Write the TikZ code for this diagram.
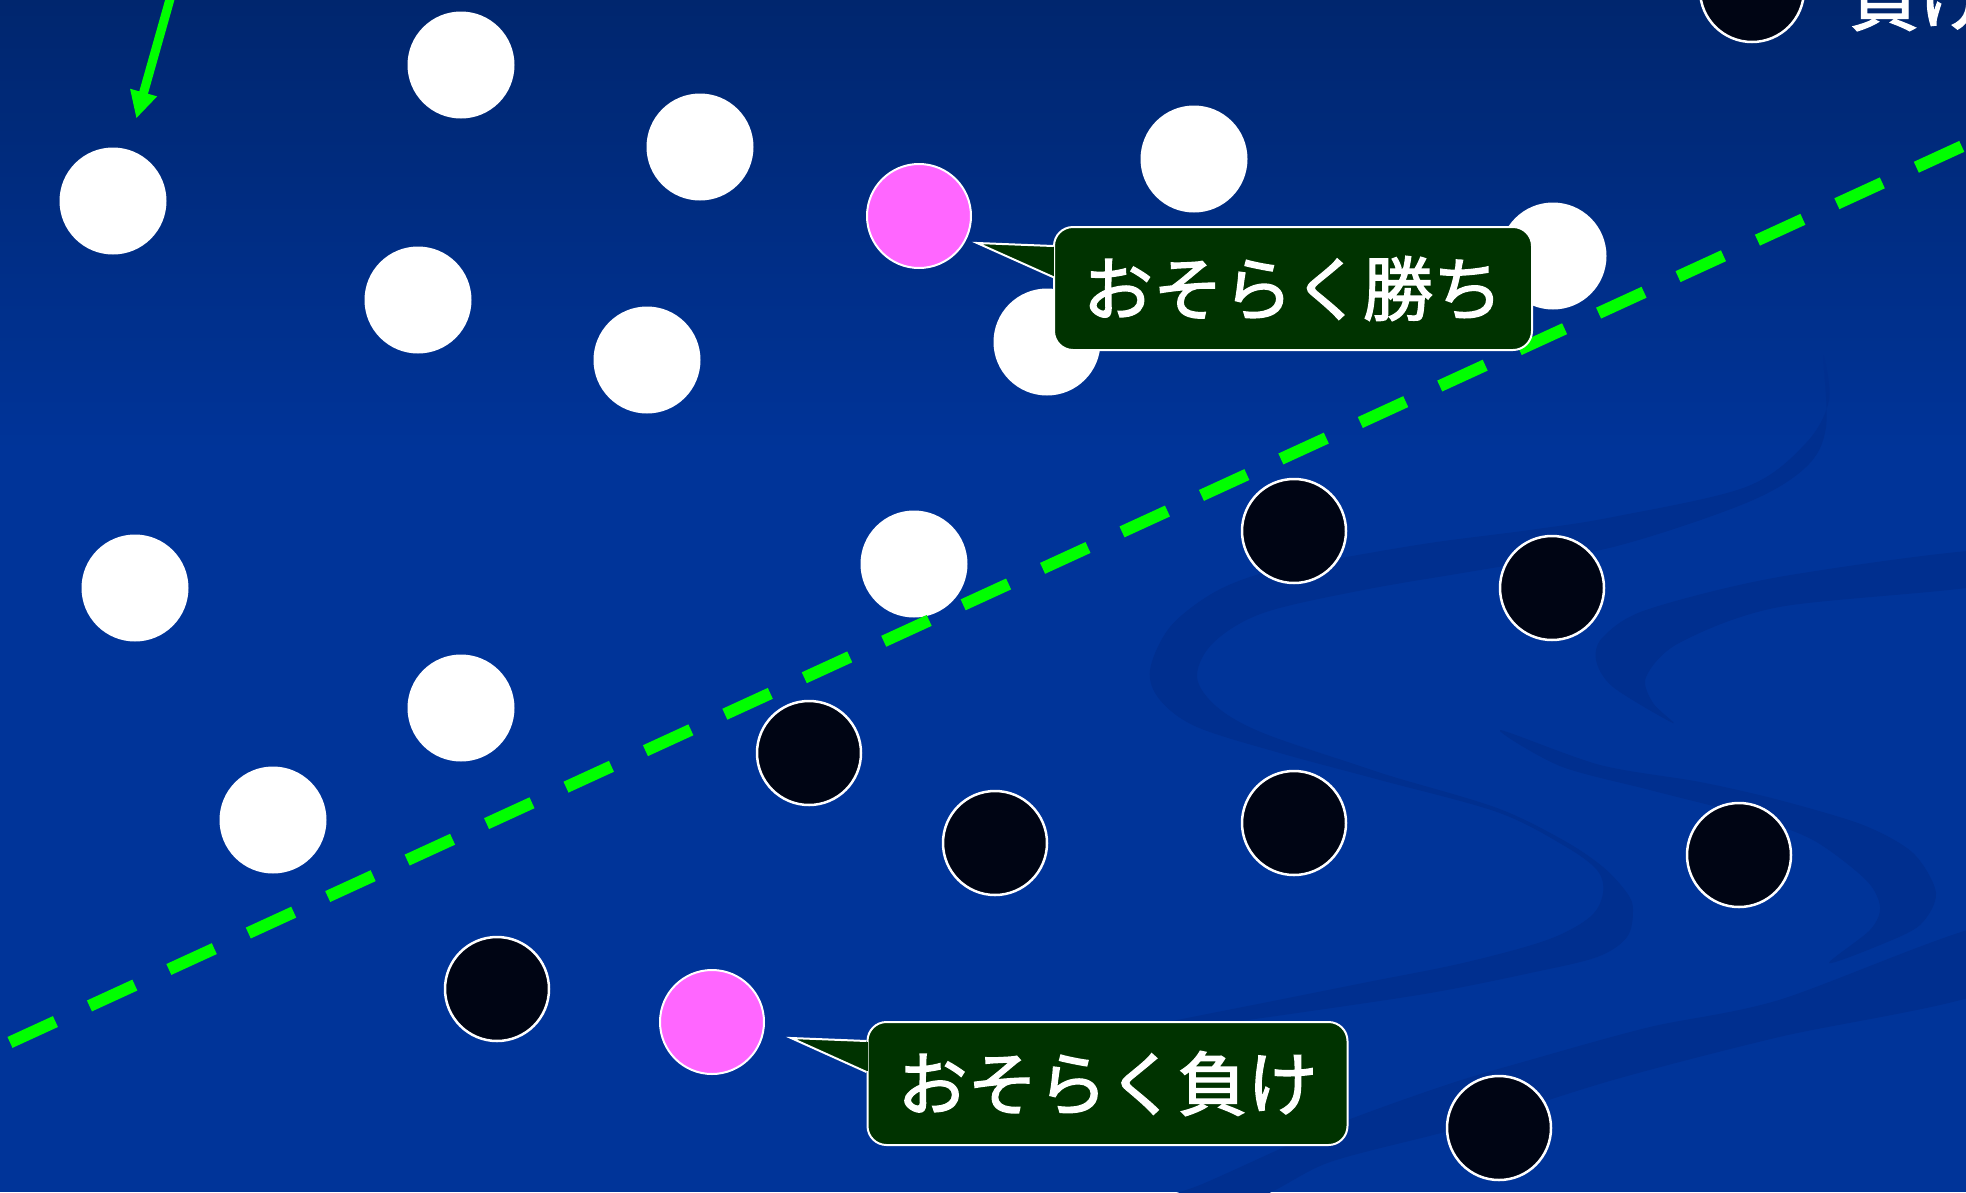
\documentclass[tikz,border=0pt]{standalone}
\usepackage{fontspec}
\newfontfamily\jpfont{Noto Sans CJK JP}[FakeBold=2]
\usetikzlibrary{arrows.meta,calc}
\definecolor{bgtop}{RGB}{0,38,110}
\definecolor{bgbot}{RGB}{0,52,153}
\definecolor{swirlc}{RGB}{0,47,143}
\definecolor{stoneblack}{RGB}{0,5,20}
\definecolor{stonepink}{RGB}{255,102,255}
\definecolor{boxgreen}{RGB}{0,51,0}
\definecolor{linegreen}{RGB}{0,255,0}
\begin{document}
\begin{tikzpicture}[x=1pt,y=-1pt,
  wstone/.style={circle, fill=white, minimum size=107pt, inner sep=0pt},
  bstone/.style={circle, fill=stoneblack, draw=white, line width=2.5pt, minimum size=104pt, inner sep=0pt},
  pstone/.style={circle, fill=stonepink, draw=white, line width=2pt, minimum size=104pt, inner sep=0pt},
  jptext/.style={text=white, font=\jpfont\fontsize{70}{80}\selectfont},
  calloutbox/.style={jptext, rounded corners=19pt, fill=boxgreen, draw=white, line width=2pt, minimum height=123pt, inner sep=0pt},
  pointer/.style={fill=boxgreen, draw=white, line width=2pt, line join=miter},
  swirl/.style={fill=swirlc},
  boundary/.style={linegreen, line width=12pt, dash pattern=on 50pt off 37.4pt},
  hint/.style={linegreen, line width=9pt, -{Triangle[length=27pt,width=26pt]}}
]
\useasboundingbox (0,0) rectangle (1966,1192);
\clip (0,0) rectangle (1966,1192);

% background
\shade[top color=bgtop, bottom color=bgbot] (0,0) rectangle (1966,450);
\fill[bgbot] (0,449) rectangle (1966,1192);

% decorative swirls
\fill[swirl] plot[smooth cycle, tension=0.55] coordinates {
 (1823,355) (1829,400) (1806,443) (1746,487) (1613,517) (1530,530) (1430,543)
 (1330,560) (1263,573) (1213,593) (1170,627) (1150,670) (1160,700) (1197,727)
 (1280,753) (1380,780) (1497,812) (1563,845) (1597,870) (1603,893) (1590,917)
 (1547,940) (1463,963) (1363,983) (1263,1003) (1163,1023) (1080,1042)
 (1130,1037) (1197,1027) (1297,1013) (1430,993) (1530,973) (1597,957) (1627,937)
 (1633,910) (1627,893) (1603,867) (1563,840) (1497,808) (1397,778) (1363,767)
 (1263,733) (1217,707) (1197,677) (1213,643) (1263,613) (1363,590) (1480,570)
 (1613,547) (1746,503) (1806,467) (1826,427)};
\fill[swirl] plot[smooth cycle, tension=0.5] coordinates {
 (1990,550) (1779,577) (1646,610) (1603,637) (1596,660) (1613,687) (1673,723)
 (1653,703) (1646,677) (1679,643) (1779,607) (1990,584)};
\fill[swirl] plot[smooth cycle, tension=0.5] coordinates {
 (1500,730) (1600,765) (1700,782) (1779,800) (1863,825) (1913,853) (1936,893)
 (1920,925) (1880,945) (1829,963) (1870,930) (1880,907) (1866,880) (1813,840)
 (1746,815) (1650,790) (1560,766)};
\fill[swirl] plot[smooth cycle, tension=0.5] coordinates {
 (1990,925) (1779,1000) (1650,1027) (1530,1060) (1446,1085) (1330,1127)
 (1200,1185) (1140,1205) (1250,1200) (1330,1162) (1463,1127) (1613,1080)
 (1779,1037) (1990,990)};

% white stones
\node[wstone] (w1)  at (113,201) {};
\node[wstone] (w2)  at (461,65)  {};
\node[wstone] (w3)  at (700,147) {};
\node[wstone] (w4)  at (1194,159) {};
\node[wstone] (w5)  at (1553,256) {};
\node[wstone] (w6)  at (418,300) {};
\node[wstone] (w7)  at (647,360) {};
\node[wstone] (w8)  at (1047,342) {};
\node[wstone] (w9)  at (135,588) {};
\node[wstone] (w10) at (914,564) {};
\node[wstone] (w11) at (461,708) {};
\node[wstone] (w12) at (273,820) {};

% pink stones
\node[pstone] (p1) at (919,216) {};
\node[pstone] (p2) at (712,1022) {};

% black stones
\node[bstone] (b1) at (1752,-10) {};
\node[bstone] (b2) at (1294,531) {};
\node[bstone] (b3) at (1552,588) {};
\node[bstone] (b4) at (809,753) {};
\node[bstone] (b5) at (995,843) {};
\node[bstone] (b6) at (1294,823) {};
\node[bstone] (b7) at (1739,855) {};
\node[bstone] (b8) at (497,989) {};
\node[bstone] (b9) at (1499,1128) {};

% dashed boundary
\coordinate (dlA) at (10,1042.4);
\coordinate (dlB) at (1980,138);
\draw[boundary] (dlA) -- (dlB);

% arrow from top
\coordinate (astart) at (174,-15);
\draw[hint, shorten >=32pt] (astart) -- (w1);

% callout: probably win
\node[calloutbox, minimum width=478pt] (win) at (1293,288.5) {おそらく勝ち};
\coordinate (winTip) at (977,243);
\fill[boxgreen] ($(win.north west)+(-1.3,21)$) rectangle ($(win.north west)+(1.3,50)$);
\path[pointer] ($(win.north west)+(0,20)$) -- (winTip) -- ($(win.north west)+(0,51)$);

% callout: probably lose
\node[calloutbox, minimum width=480pt] (lose) at (1107.5,1083.5) {おそらく負け};
\coordinate (loseTip) at (791,1038);
\fill[boxgreen] ($(lose.north west)+(-1.3,21)$) rectangle ($(lose.north west)+(1.3,50)$);
\path[pointer] ($(lose.north west)+(0,20)$) -- (loseTip) -- ($(lose.north west)+(0,51)$);

% partial label at top right
\node[jptext, anchor=base west, inner sep=0pt] (loselabel) at (1849,25) {負け};
\end{tikzpicture}
\end{document}
